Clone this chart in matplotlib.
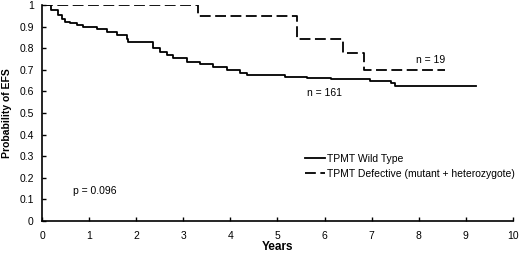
import numpy as np
import matplotlib
matplotlib.use("Agg")
import matplotlib.pyplot as plt

plt.rcParams['font.family'] = ['Liberation Sans', 'DejaVu Sans']

# Kaplan-Meier estimates (step after each time)
wild_t = [0.0, 0.2, 0.35, 0.42, 0.49, 0.59, 0.74, 0.88, 1.16, 1.37, 1.59, 1.8, 1.83,
          2.36, 2.5, 2.65, 2.79, 3.07, 3.35, 3.64, 3.92, 4.2, 4.35,
          5.16, 5.62, 6.14, 6.96, 7.42, 7.5, 9.21]
wild_s = [1.0, 0.977, 0.954, 0.934, 0.923, 0.915, 0.907, 0.897, 0.887, 0.877, 0.861, 0.841, 0.827,
          0.80, 0.784, 0.769, 0.753, 0.738, 0.725, 0.714, 0.699, 0.687, 0.676,
          0.668, 0.66, 0.656, 0.647, 0.637, 0.624, 0.624]

def_t = [0.0, 3.31, 5.41, 6.40, 6.84, 8.56]
def_s = [1.0, 0.95, 0.844, 0.776, 0.698, 0.698]

fig = plt.figure(figsize=(5.2, 2.54), dpi=100)
ax = fig.add_axes([0.0808, 0.13, 0.9057, 0.85])

ax.step(wild_t, wild_s, where='post', color='black', lw=1.3,
        label='TPMT Wild Type')
ax.step(def_t, def_s, where='post', color='black', lw=1.3, dashes=(6, 2.5),
        label='TPMT Defective (mutant + heterozygote)')

ax.set_xlim(0, 10)
ax.set_ylim(0, 1)
ax.set_xticks(np.arange(0, 11, 1))
ax.set_yticks(np.arange(0, 1.01, 0.1))
ax.set_yticklabels(['0', '0.1', '0.2', '0.3', '0.4', '0.5', '0.6', '0.7', '0.8', '0.9', '1'])
ax.tick_params(direction='in', length=3, width=1, labelsize=7.5, pad=7)
ax.tick_params(axis='y', pad=6)
for side in ['top', 'right']:
    ax.spines[side].set_visible(False)
for side in ['left', 'bottom']:
    ax.spines[side].set_linewidth(1.2)

ax.set_xlabel('Years', fontsize=8.5, fontweight='bold', labelpad=0)
ax.set_ylabel('Probability of EFS', fontsize=7.5, fontweight='bold', labelpad=5)

ax.text(6.0, 0.595, 'n = 161', fontsize=7.5, ha='center', va='center')
ax.text(8.25, 0.747, 'n = 19', fontsize=7.5, ha='center', va='center')
ax.text(1.13, 0.138, 'p = 0.096', fontsize=7.5, ha='center', va='center')

ax.legend(loc='upper left', bbox_to_anchor=(0.548, 0.335), frameon=False, fontsize=7.5,
          handlelength=1.9, handletextpad=0.2, borderpad=0, labelspacing=0.45)

fig.savefig('out.png', dpi=100)
